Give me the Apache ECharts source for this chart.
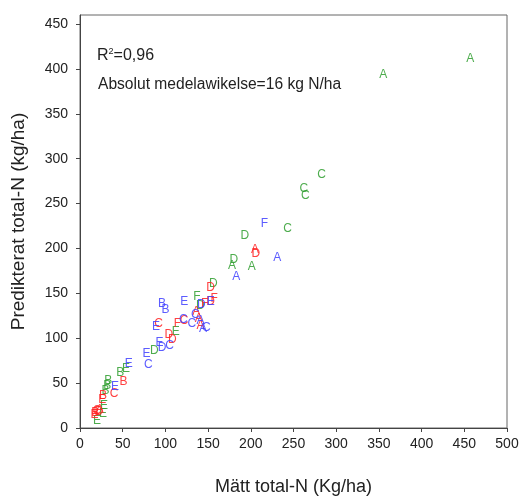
<!DOCTYPE html>
<html><head><meta charset="utf-8">
<script src="https://cdn.jsdelivr.net/npm/echarts@6/dist/echarts.min.js"></script>
<style>html,body{margin:0;padding:0;background:#fff}#c{width:531px;height:501px}</style>
</head><body><div id="c"></div>
<script>
// Green series
const greenX = [457, 355, 283, 262, 264, 243, 193, 180, 178, 201, 156, 137, 141, 112, 87, 54, 47, 33, 32, 30, 28, 27, 20];
const greenY = [411, 394, 282, 266, 259, 222, 214, 188, 181, 180, 161, 146, 136, 107, 86, 66, 62, 53, 47, 42, 25, 16, 8];
const greenL = ['A','A','C','C','C','C','D','D','A','A','D','F','D','E','D','E','B','B','B','B','E','E','E'];
// Red series
const redX = [205, 206, 153, 157, 153, 146, 136, 139, 141, 92, 114, 122, 104, 108, 51, 40, 27, 26, 18, 20, 22, 17, 23];
const redY = [199, 194, 156, 144, 141, 139, 130, 122, 114, 116, 116, 120, 104, 98, 52, 38, 36, 32, 17, 19, 18, 15, 20];
const redL = ['A','D','D','F','D','F','A','A','A','C','F','C','D','D','B','C','B','E','B','C','D','E','A'];
// Blue series
const blueX = [216, 231, 183, 96, 100, 122, 142, 153, 121, 131, 135, 141, 144, 148, 89, 93, 96, 105, 78, 80, 57, 41];
const blueY = [228, 190, 168, 139, 132, 141, 137, 141, 121, 116, 126, 119, 111, 112, 113, 95, 89, 92, 83, 71, 72, 46];
const blueL = ['F','A','A','B','B','E','D','E','C','C','C','A','A','C','E','E','D','C','E','C','E','E'];
// Tick labels
const xTicks = [0, 50, 100, 150, 200, 250, 300, 350, 400, 450, 500];
const yTicks = [0, 50, 100, 150, 200, 250, 300, 350, 400, 450];

const FONT = '"Liberation Sans", Arial, sans-serif';
function mk(xs, ys, ls, color) {
  return {
    type: 'scatter',
    data: xs.map((x, i) => [x, ys[i], ls[i]]),
    symbolSize: 1,
    itemStyle: { color: 'rgba(0,0,0,0)' },
    label: {
      show: true, position: 'inside', formatter: p => p.value[2],
      color: color, fontSize: 12, fontFamily: FONT, opacity: 0.85
    },
    labelLayout: { hideOverlap: false },
    emphasis: { disabled: true },
    silent: true, animation: false
  };
}
const chart = echarts.init(document.getElementById('c'), null, { renderer: 'canvas' });
const axisCommon = {
  axisLine: { show: true, lineStyle: { color: '#444', width: 1 } },
  axisTick: { show: true, length: 4, lineStyle: { color: '#444' } },
  splitLine: { show: false },
  nameLocation: 'middle'
};
chart.setOption({
  animation: false,
  grid: { left: 80, right: 24, top: 15, bottom: 69, show: true, borderColor: '#666', borderWidth: 1, containLabel: false },
  xAxis: Object.assign({}, axisCommon, {
    type: 'value', min: 0, max: 500, interval: 50,
    name: 'Mätt total-N (Kg/ha)', nameGap: 50,
    nameTextStyle: { fontSize: 18, color: '#222', fontFamily: FONT },
    axisTick: Object.assign({}, axisCommon.axisTick, { customValues: xTicks }),
    axisLabel: { customValues: xTicks, fontSize: 14, color: '#222', fontFamily: FONT, margin: 9 }
  }),
  yAxis: Object.assign({}, axisCommon, {
    type: 'value', min: 0, max: 460, interval: 50,
    name: 'Predikterat total-N (kg/ha)', nameGap: 52,
    nameTextStyle: { fontSize: 19, color: '#222', fontFamily: FONT },
    axisTick: Object.assign({}, axisCommon.axisTick, { customValues: yTicks }),
    axisLabel: { customValues: yTicks, fontSize: 14, color: '#222', fontFamily: FONT, margin: 12 }
  }),
  graphic: [
    { type: 'text', left: 97, top: 47, style: {
        text: '{b|R}{s|2}{b|=0,96}', fill: '#222', fontFamily: FONT,
        rich: {
          b: { fontSize: 16, fontFamily: FONT, fill: '#222', color: '#222', verticalAlign: 'bottom' },
          s: { fontSize: 9, fontFamily: FONT, fill: '#222', color: '#222', verticalAlign: 'top', padding: [0, 0, 8, 0] }
        } } },
    { type: 'text', left: 98, top: 77, style: { text: 'Absolut medelawikelse=16 kg N/ha', fontSize: 15.6, fill: '#222', fontFamily: FONT } }
  ],
  series: [
    mk(greenX, greenY, greenL, '#2e9e2e'),
    mk(redX, redY, redL, '#ff2020'),
    mk(blueX, blueY, blueL, '#4040ff')
  ]
});
</script></body></html>
